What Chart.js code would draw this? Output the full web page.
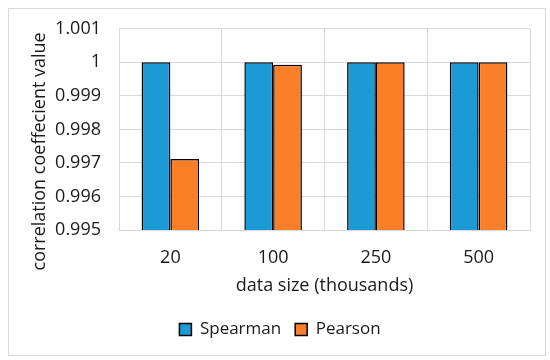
<!DOCTYPE html>
<html>
<head>
<meta charset="utf-8">
<script src="https://cdn.jsdelivr.net/npm/chart.js@4/dist/chart.umd.min.js"></script>
<style>
  html, body { margin: 0; padding: 0; background: #fff; }
  #frame { position: absolute; left: 8px; top: 8px; width: 536px; height: 346px; border: 1px solid #d9d9d9; }
  #wrap { position: absolute; left: 0; top: 0; width: 550px; height: 360px; }
</style>
</head>
<body>
<div id="frame"></div>
<div id="wrap"><canvas id="chart" width="550" height="360"></canvas></div>
<script>
var categories = ['20', '100', '250', '500'];
var spearman = [1.0, 1.0, 1.0, 1.0];
var pearson = [0.99712, 0.99993, 1.0, 1.0];

var textColor = '#1a1a1a';
var font = { family: 'Open Sans', size: 18 };
var legendFont = { family: 'Open Sans', size: 17 };
var yTitle = 'correlation coeffecient value';

// y axis title, drawn like Excel's: a bit below the middle of the plot
var yTitlePlugin = {
    id: 'yTitle',
    afterDraw: function(chart) {
        var c = chart.ctx, area = chart.chartArea, ys = chart.scales.y;
        c.save();
        c.translate(ys.left + 10, (area.top + area.bottom) / 2 + 22);
        c.rotate(-Math.PI / 2);
        c.font = '18px "Open Sans"';
        c.fillStyle = textColor;
        c.textAlign = 'center';
        c.textBaseline = 'middle';
        c.fillText(yTitle, 0, 0);
        c.restore();
    }
};

var ctx = document.getElementById('chart').getContext('2d');
new Chart(ctx, {
    type: 'bar',
    data: {
        labels: categories,
        datasets: [{
            label: 'Spearman',
            data: spearman,
            backgroundColor: '#1c9ad6',
            borderColor: '#000000',
            borderWidth: 1.5,
            borderSkipped: false
        }, {
            label: 'Pearson',
            data: pearson,
            backgroundColor: '#fb7f28',
            borderColor: '#000000',
            borderWidth: 1.5,
            borderSkipped: false
        }]
    },
    options: {
        responsive: false,
        animation: false,
        layout: { padding: { top: 25.2, right: 20, left: 30, bottom: 12 } },
        datasets: { bar: { barPercentage: 1, categoryPercentage: 0.56 } },
        plugins: {
            legend: {
                position: 'bottom',
                labels: {
                    font: legendFont,
                    color: textColor,
                    boxWidth: 12,
                    boxHeight: 12,
                    padding: 14
                }
            },
            tooltip: { enabled: false }
        },
        scales: {
            x: {
                grid: { color: '#d9d9d9', drawTicks: false },
                border: { color: '#d9d9d9' },
                ticks: { font: font, color: textColor, padding: 17 },
                title: { display: true, text: 'data size (thousands)', font: font, color: textColor, padding: { top: 4, bottom: 10 } },
                afterFit: function(scale) { scale.height = 77; }
            },
            y: {
                min: 0.995,
                max: 1.001,
                grid: { color: '#d9d9d9', drawTicks: false },
                border: { color: '#d9d9d9' },
                ticks: {
                    stepSize: 0.001,
                    font: font,
                    color: textColor,
                    padding: 18,
                    callback: function(v) { return parseFloat(v.toFixed(3)).toString(); }
                },
                afterFit: function(scale) { scale.width = 89; }
            }
        }
    },
    plugins: [yTitlePlugin]
});
</script>
</body>
</html>
